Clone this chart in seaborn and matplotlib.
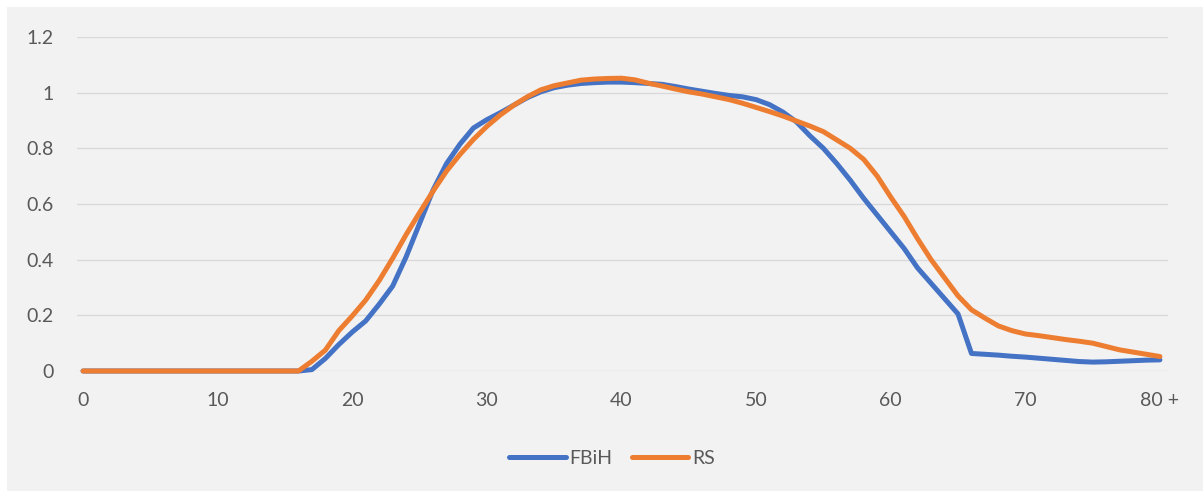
import matplotlib
matplotlib.use("Agg")
import matplotlib.pyplot as plt
from matplotlib.patches import Rectangle
from matplotlib.lines import Line2D
import numpy as np
import pandas as pd
import seaborn as sns

# Age categories 0 .. 80+
ages = list(range(81))

fbih = [0.0] * 17 + [
    0.005, 0.045, 0.095, 0.14, 0.18, 0.24, 0.305, 0.41, 0.53, 0.65,      # 17-26
    0.745, 0.815, 0.873, 0.903, 0.928, 0.955, 0.982, 1.003, 1.018, 1.027,  # 27-36
    1.033, 1.036, 1.038, 1.038, 1.036, 1.033, 1.03, 1.022, 1.013, 1.005,  # 37-46
    0.997, 0.99, 0.985, 0.975, 0.957, 0.93, 0.895, 0.845, 0.80, 0.745,    # 47-56
    0.685, 0.62, 0.56, 0.50, 0.44, 0.37, 0.315, 0.26, 0.205, 0.063,       # 57-66
    0.06, 0.057, 0.053, 0.05, 0.046, 0.042, 0.038, 0.034, 0.032, 0.033,   # 67-76
    0.035, 0.037, 0.039, 0.04,                                            # 77-80
]

rs = [0.0] * 17 + [
    0.035, 0.075, 0.145, 0.198, 0.255, 0.325, 0.405, 0.49, 0.569, 0.646,  # 17-26
    0.718, 0.778, 0.832, 0.879, 0.92, 0.955, 0.985, 1.01, 1.025, 1.035,   # 27-36
    1.045, 1.049, 1.051, 1.052, 1.046, 1.034, 1.024, 1.013, 1.003, 0.995, # 37-46
    0.985, 0.975, 0.962, 0.947, 0.932, 0.916, 0.898, 0.88, 0.86, 0.83,   # 47-56
    0.80, 0.76, 0.70, 0.625, 0.555, 0.475, 0.40, 0.335, 0.27, 0.22,       # 57-66
    0.19, 0.162, 0.145, 0.133, 0.127, 0.12, 0.113, 0.107, 0.10, 0.088,   # 67-76
    0.076, 0.068, 0.06, 0.052,                                            # 77-80
]

series_names = ["FBiH", "RS"]
series_colors = ["#4472C4", "#ED7D31"]

x_ticks = [0, 10, 20, 30, 40, 50, 60, 70, 80]
x_labels = ["0", "10", "20", "30", "40", "50", "60", "70", "80 +"]
y_ticks = [0, 0.2, 0.4, 0.6, 0.8, 1.0, 1.2]
y_labels = ["0", "0.2", "0.4", "0.6", "0.8", "1", "1.2"]

sns.set_theme(style="white")
plt.rcParams["font.family"] = ["Lato", "DejaVu Sans"]

W, H = 1203, 491
fig = plt.figure(figsize=(W / 100, H / 100), dpi=100, facecolor="white")
fig.patches.append(Rectangle((7 / W, 0), 1, 1 - 7 / H, transform=fig.transFigure,
                             facecolor="#f2f2f2", edgecolor="none", zorder=-10))

ax = fig.add_axes([77 / W, 1 - 371 / H, (1168 - 77) / W, (371 - 37) / H])
ax.set_facecolor("#f2f2f2")

df = pd.DataFrame({
    "age": ages * 2,
    "value": fbih + rs,
    "region": [series_names[0]] * len(ages) + [series_names[1]] * len(ages),
})

sns.lineplot(data=df, x="age", y="value", hue="region",
             palette=dict(zip(series_names, series_colors)),
             linewidth=3.6, ax=ax, legend=False, sort=False)
for ln in ax.lines:
    ln.set_clip_on(False)
    ln.set_solid_capstyle("round")
    ln.set_solid_joinstyle("round")
    ln.set_zorder(3)

ax.set_xlim(-0.45, 80.6)
ax.set_ylim(0, 1.2)
ax.set_xticks(x_ticks)
ax.set_xticklabels(x_labels)
ax.set_yticks(y_ticks)
ax.set_yticklabels(y_labels)
ax.set_xlabel("")
ax.set_ylabel("")

ax.yaxis.grid(True, color="#d9d9d9", linewidth=1.0)
ax.xaxis.grid(False)
ax.set_axisbelow(True)
for s in ax.spines.values():
    s.set_visible(False)
ax.tick_params(axis="both", length=0, labelsize=14, colors="#595959")
ax.tick_params(axis="y", pad=17)
ax.tick_params(axis="x", pad=15)

handles = [Line2D([], [], color=c, linewidth=3.6, solid_capstyle="round")
           for c in series_colors]
fig.legend(handles, series_names, loc="center", bbox_to_anchor=(612 / W, 1 - 458 / H),
           ncol=2, frameon=False, fontsize=14, handlelength=2.9, handletextpad=0.2,
           columnspacing=1.0, labelcolor="#595959")

fig.savefig("out.png", dpi=100, facecolor=fig.get_facecolor())
